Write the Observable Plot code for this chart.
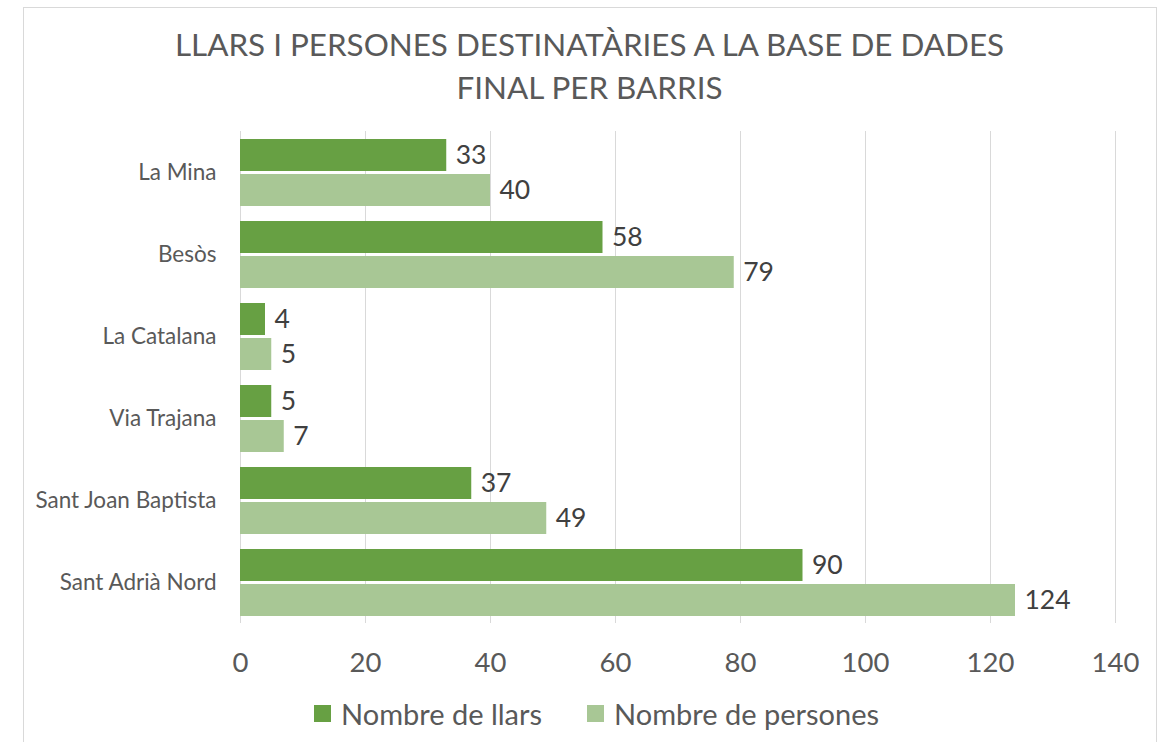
<!DOCTYPE html>
<html>
<head>
<meta charset="utf-8">
<script src="https://cdn.jsdelivr.net/npm/d3@7"></script>
<script src="https://cdn.jsdelivr.net/npm/@observablehq/plot@0.6"></script>
<style>
  html, body { margin: 0; padding: 0; background: #fff; }
  body { width: 1163px; height: 742px; position: relative; overflow: hidden; font-family: Lato, "Open Sans", sans-serif; }
  #frame { position: absolute; left: 23px; top: 7px; width: 1132px; height: 760px; border: 1px solid #d9d9d9; }
  #title { position: absolute; left: 23px; top: 23px; width: 1133px; text-align: center; color: #595959; font-size: 31.4px; line-height: 43px; }
  #chart { position: absolute; left: 0; top: 110px; }
  #legend { position: absolute; left: 314px; top: 696px; display: flex; gap: 45px; color: #595959; font-size: 29px; white-space: nowrap; }
  .item { display: flex; align-items: center; gap: 10px; }
  .sw { width: 17px; height: 17px; display: inline-block; }
</style>
</head>
<body>
<div id="frame"></div>
<div id="title">LLARS I PERSONES DESTINATÀRIES A LA BASE DE DADES<br>FINAL PER BARRIS</div>
<div id="chart"></div>
<div id="legend"></div>
<script>
const barris = ["La Mina", "Besòs", "La Catalana", "Via Trajana", "Sant Joan Baptista", "Sant Adrià Nord"];
const series = ["Nombre de llars", "Nombre de persones"];
const llars = [33, 58, 4, 5, 37, 90];
const persones = [40, 79, 5, 7, 49, 124];
const xTicks = [0, 20, 40, 60, 80, 100, 120, 140];
const colors = ["#67a043", "#a8c795"];

const data = [];
barris.forEach((b, i) => {
  data.push({barri: b, series: series[0], value: llars[i]});
  data.push({barri: b, series: series[1], value: persones[i]});
});

const plot = Plot.plot({
  width: 1163,
  height: 580,
  marginLeft: 240,
  marginRight: 48,
  marginTop: 20,
  marginBottom: 67,
  style: {fontFamily: "Lato, 'Open Sans', sans-serif", background: "transparent"},
  x: {domain: [0, 140]},
  fy: {domain: barris, padding: 0},
  y: {domain: series, paddingInner: 0.09, paddingOuter: 0.21},
  color: {domain: series, range: colors},
  marks: [
    Plot.gridX(xTicks, {stroke: "#d9d9d9", strokeOpacity: 1, strokeWidth: 1}),
    Plot.barX(data, {fy: "barri", y: "series", x: "value", fill: "series"}),
    Plot.text(data, {fy: "barri", y: "series", x: "value", text: d => String(d.value), dx: 9, textAnchor: "start", fill: "#404040", fontSize: 26.5}),
    Plot.axisX(xTicks, {tickSize: 0, tickPadding: 29, fontSize: 27.5, color: "#595959", label: null, tickFormat: d => String(d)}),
    Plot.axisFy({anchor: "left", tickSize: 0, tickPadding: 24, fontSize: 22.5, color: "#595959", label: null}),
    Plot.axisY({ticks: [], label: null, tickSize: 0})
  ]
});
document.getElementById("chart").appendChild(plot);

const legend = document.getElementById("legend");
series.forEach((s, i) => {
  const item = document.createElement("div");
  item.className = "item";
  const sw = document.createElement("span");
  sw.className = "sw";
  sw.style.background = colors[i];
  const t = document.createElement("span");
  t.textContent = s;
  item.appendChild(sw);
  item.appendChild(t);
  legend.appendChild(item);
});
</script>
</body>
</html>
